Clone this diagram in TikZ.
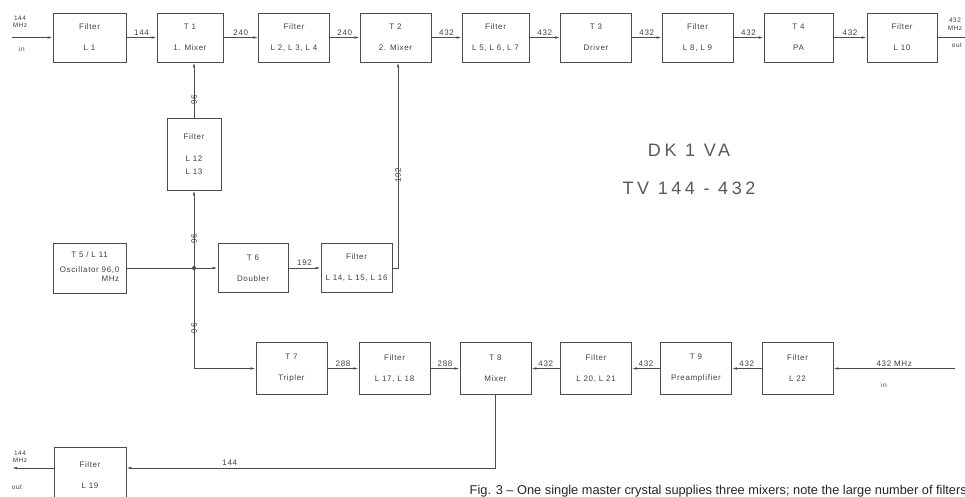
\documentclass[tikz,border=0pt]{standalone}
\usepackage{fontspec}
\setmainfont{Liberation Sans}
\newfontfamily\blkfont[LetterSpace=8]{Liberation Sans}
\newfontfamily\ttlfont[LetterSpace=20]{Liberation Sans}
\usetikzlibrary{arrows.meta}

\begin{document}
\begin{tikzpicture}[x=1pt, y=-1pt, line width=0.8pt, color=black!70, text=black!75,
  >={Latex[length=5pt,width=2.6pt]},
  blk/.style={draw, minimum width=71pt, minimum height=49pt, align=center,
    inner sep=1pt, font=\blkfont\fontsize{8}{9}\selectfont},
  num/.style={above, inner sep=2pt, font=\blkfont\fontsize{8}{9}\selectfont},
  vnum/.style={rotate=90, inner sep=1pt, font=\blkfont\fontsize{8}{9}\selectfont},
  io/.style={align=center, inner sep=0pt, font=\blkfont\fontsize{6.5}{7.5}\selectfont}]
  \path[use as bounding box] (0,0) rectangle (965,496);
  \clip (0,0) rectangle (965,496);
  \node[blk, minimum width=73pt] (f1) at (89.5,37.5) {Filter\\[12pt]L 1};
  \node[blk, minimum width=66pt] (t1) at (190,37.5) {T 1\\[12pt]1. Mixer};
  \node[blk] (f2) at (294,37.5) {Filter\\[12pt]L 2, L 3, L 4};
  \node[blk] (t2) at (395.5,37.5) {T 2\\[12pt]2. Mixer};
  \node[blk, minimum width=67pt] (f3) at (495.5,37.5) {Filter\\[12pt]L 5, L 6, L 7};
  \node[blk] (t3) at (596,37.5) {T 3\\[12pt]Driver};
  \node[blk] (f4) at (697.5,37.5) {Filter\\[12pt]L 8, L 9};
  \node[blk, minimum width=69pt] (t4) at (798.5,37.5) {T 4\\[12pt]PA};
  \node[blk, minimum width=70pt] (f5) at (902,37.5) {Filter\\[12pt]L 10};
  \node[blk, minimum width=54pt, minimum height=72pt] (f12) at (194,154)
    {Filter\\[13pt]L 12\\[4pt]L 13};
  \node[blk, minimum width=73pt, minimum height=50pt] (osc) at (89.5,268)
    {\begin{tabular}{@{}r@{}}\multicolumn{1}{@{}c@{}}{T 5 / L 11}\\[6pt]Oscillator 96,0\\MHz\end{tabular}};
  \coordinate (jn) at (194,268);
  \node[blk, minimum width=70pt] (t6) at (253,268) {T 6\\[12pt]Doubler};
  \node[blk] (f14) at (356.5,268) {Filter\\[12pt]L 14, L 15, L 16};
  \node[blk, minimum height=52pt] (t7) at (291.5,368.5) {T 7\\[12pt]Tripler};
  \node[blk, minimum height=52pt] (f17) at (394.5,368.5) {Filter\\[12pt]L 17, L 18};
  \node[blk, minimum height=52pt] (t8) at (495.5,368.5) {T 8\\[12pt]Mixer};
  \node[blk, minimum height=52pt] (f20) at (596,368.5) {Filter\\[12pt]L 20, L 21};
  \node[blk, minimum height=52pt] (t9) at (696,368.5) {T 9\\[12pt]Preamplifier};
  \node[blk, minimum height=52pt] (f22) at (797.5,368.5) {Filter\\[12pt]L 22};
  \node[blk, minimum width=72pt, minimum height=56pt] (f19) at (90,475) {Filter\\[12pt]L 19};
  \coordinate (inA) at (12,37.5);
  \coordinate (outA) at (965,37.5);
  \coordinate (inB) at (955,368.5);
  \coordinate (outB) at (12,468);
  \draw[->] (inA) -- (f1);
  \draw[->] (f1) -- (t1) node[num, midway] {144};
  \draw[->] (t1) -- (f2) node[num, midway] {240};
  \draw[->] (f2) -- (t2) node[num, midway] {240};
  \draw[->] (t2) -- (f3) node[num, midway] {432};
  \draw[->] (f3) -- (t3) node[num, midway] {432};
  \draw[->] (t3) -- (f4) node[num, midway] {432};
  \draw[->] (f4) -- (t4) node[num, midway] {432};
  \draw[->] (t4) -- (f5) node[num, midway] {432};
  \draw (f5) -- (outA);
  \draw[->] (f12) -- (f12 |- t1.south) node[vnum, midway, xshift=-10pt] {96};
  \draw (osc) -- (jn);
  \fill (jn) circle (2pt);
  \draw[->] (jn) -- (f12) node[vnum, midway, xshift=-10pt] {96};
  \draw[->] (jn) -- (t6);
  \draw[->] (jn) |- (t7) node[vnum, pos=0.25, xshift=-10pt] {96};
  \draw[->] (t6) -- (f14) node[num, midway] {192};
  \draw[->] (f14.east) -| ([xshift=2.5pt]t2.south) node[vnum, pos=0.75, xshift=-10pt] {192};
  \draw[->] (t7) -- (f17) node[num, midway] {288};
  \draw[->] (f17) -- (t8) node[num, midway] {288};
  \draw[->] (f20) -- (t8) node[num, midway] {432};
  \draw[->] (t9) -- (f20) node[num, midway] {432};
  \draw[->] (f22) -- (t9) node[num, midway] {432};
  \draw[->] (inB) -- (f22) node[num, midway] {432 MHz};
  \draw[->] (t8) |- ([yshift=7pt]f19.east) node[num, pos=0.86] {144};
  \draw[->] ([yshift=7pt]f19.west) -- (outB);
  \node[io] (inAl) at (20,22) {144\\MHz};
  \node[io] (inAm) at (22,49) {in};
  \node[io] (outAl) at (955,24) {432\\MHz};
  \node[io] (outAm) at (957,45) {out};
  \node[io] (outBl) at (20,457) {144\\MHz};
  \node[io] (outBm) at (17,487) {out};
  \node[io] (inBm) at (884,385) {in};
  \node[align=center, text=black!65, font=\ttlfont\fontsize{18}{22}\selectfont] (ttl) at (689,169)
    {DK 1 VA\\[16pt]TV 144 - 432};
  \node[anchor=base west, text=black!85, font=\fontsize{12.8}{15}\selectfont] (cap) at (466,494)
    {Fig. 3 -- One single master crystal supplies three mixers; note the large number of filters};
\end{tikzpicture}
\end{document}
